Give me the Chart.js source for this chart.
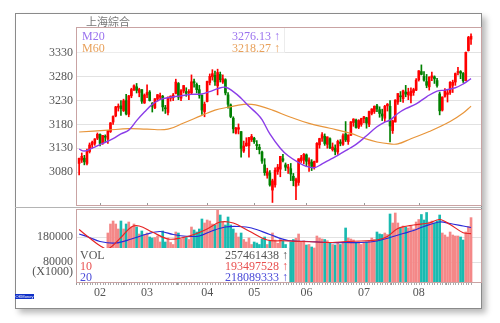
<!DOCTYPE html>
<html>
<head>
<meta charset="utf-8">
<script src="https://cdn.jsdelivr.net/npm/chart.js@4.4.1/dist/chart.umd.min.js"></script>
<style>
  html, body { margin:0; padding:0; background:#fff; }
  #wrap { position:relative; width:500px; height:323px; overflow:hidden; font-family:"Liberation Serif","DejaVu Serif",serif; }
  #frame { position:absolute; left:15px; top:13px; width:467px; height:296px; box-sizing:border-box; border:1px solid #8a8a8a; background:#fff; box-shadow:4px 4px 6px rgba(0,0,0,0.28); }
  #sep { position:absolute; left:15px; top:207px; width:467px; height:1px; background:#b4b4b4; }
  canvas { position:absolute; left:0; top:0; }
  .t { position:absolute; white-space:nowrap; font-size:12px; line-height:14px; }
  .box { position:absolute; background:#fff; }
  .r { text-align:right; }
</style>
</head>
<body>
<div id="wrap">
  <div id="frame"></div>
  <div id="sep"></div>
  <canvas id="price" width="500" height="323"></canvas>
  <canvas id="vol" width="500" height="323"></canvas>
  <div class="t" id="title" style="left:86px;top:14px;font-family:'Noto Sans CJK TC',sans-serif;font-size:11px;color:#777;">上海綜合</div>
  <div class="box" style="left:77px;top:28px;width:207px;height:24px;border-right:1px solid #ececec;border-bottom:1px solid #ececec;"></div>
  <div class="t" id="m20n" style="left:82px;top:29px;color:#9a72ee;"></div>
  <div class="t" id="m60n" style="left:82px;top:41px;color:#e8a05a;"></div>
  <div class="t r" id="m20v" style="right:220px;top:29px;color:#9a72ee;"></div>
  <div class="t r" id="m60v" style="right:220px;top:41px;color:#e8a05a;"></div>
  <div class="box" style="left:77px;top:248px;width:212px;height:34px;"></div>
  <div class="t" id="vn0" style="left:80px;top:248px;color:#555;"></div>
  <div class="t" id="vn1" style="left:80px;top:259px;color:#e85050;"></div>
  <div class="t" id="vn2" style="left:80px;top:270px;color:#4a4ad8;"></div>
  <div class="t r" id="vv0" style="right:212px;top:248px;color:#555;"></div>
  <div class="t r" id="vv1" style="right:212px;top:259px;color:#e85050;"></div>
  <div class="t r" id="vv2" style="right:212px;top:270px;color:#4a4ad8;"></div>
  <div class="t r" style="right:427px;top:264px;color:#555;">(X1000)</div>
  <div style="position:absolute;left:15px;top:294px;width:19px;height:5px;background:#1030c8;color:#fff;font:4px/5px sans-serif;text-align:center;overflow:hidden;">OKMoney</div>
</div>
<script>
const monthIdx    = [8, 26, 49, 67, 87, 109, 130];
const monthLabels = ['02','03','04','05','06','07','08'];
const priceTicks  = [3080, 3130, 3180, 3230, 3280, 3330];
const volTicks    = [80000, 180000];

const opens = [3098,3105,3109,3098,3123,3137,3140,3151,3159,3141,
3155,3149,3165,3185,3198,3216,3219,3209,3230,3201,
3240,3253,3259,3247,3253,3225,3242,3248,3224,3215,
3233,3237,3239,3214,3205,3235,3236,3245,3266,3235,
3250,3249,3247,3246,3270,3264,3253,3241,3207,3228,
3268,3280,3283,3261,3285,3269,3274,3242,3221,3193,
3162,3170,3165,3124,3135,3135,3148,3151,3138,3132,
3122,3095,3073,3078,3042,3053,3081,3086,3108,3095,
3088,3087,3071,3050,3058,3104,3105,3116,3097,3101,
3091,3101,3137,3151,3155,3138,3150,3127,3130,3122,
3143,3138,3160,3144,3157,3184,3189,3174,3180,3192,
3194,3180,3203,3207,3219,3211,3202,3193,3219,3218,
3167,3185,3227,3240,3234,3248,3242,3240,3247,3252,
3274,3291,3281,3270,3259,3279,3280,3272,3244,3210,
3239,3243,3247,3262,3269,3289,3291,3287,3272,3335,
3359];
const highs = [3109,3120,3115,3128,3141,3145,3150,3162,3160,3157,
3158,3167,3184,3198,3218,3223,3230,3233,3243,3241,
3256,3263,3266,3256,3253,3244,3263,3251,3226,3234,
3243,3246,3241,3220,3238,3240,3245,3275,3268,3253,
3262,3257,3253,3284,3275,3267,3262,3242,3227,3271,
3286,3295,3292,3296,3290,3284,3276,3247,3223,3196,
3174,3181,3165,3145,3152,3153,3159,3153,3146,3138,
3124,3108,3088,3083,3065,3089,3096,3113,3117,3099,
3096,3098,3077,3067,3108,3115,3119,3118,3110,3106,
3103,3142,3151,3163,3160,3154,3152,3141,3137,3147,
3148,3160,3186,3158,3186,3192,3191,3190,3193,3197,
3195,3208,3213,3219,3222,3217,3212,3220,3224,3230,
3189,3232,3245,3249,3252,3262,3256,3257,3256,3276,
3293,3305,3291,3285,3280,3290,3282,3277,3248,3238,
3255,3253,3270,3273,3288,3300,3293,3289,3332,3365,
3370];
const lows = [3074,3100,3095,3095,3120,3130,3136,3148,3135,3138,
3143,3140,3163,3180,3196,3208,3199,3207,3200,3196,
3236,3251,3246,3238,3224,3224,3236,3229,3206,3213,
3229,3232,3208,3203,3200,3229,3230,3244,3232,3230,
3246,3239,3232,3243,3258,3246,3235,3201,3196,3227,
3263,3273,3262,3242,3269,3266,3242,3214,3194,3162,
3160,3160,3111,3121,3134,3111,3144,3140,3127,3118,
3098,3073,3067,3050,3016,3048,3075,3070,3101,3083,
3077,3062,3051,3022,3052,3100,3097,3092,3081,3083,
3086,3100,3130,3144,3136,3130,3129,3124,3116,3117,
3135,3136,3144,3138,3157,3176,3172,3171,3176,3183,
3172,3175,3200,3203,3207,3195,3188,3186,3208,3143,
3161,3185,3222,3228,3226,3238,3232,3225,3241,3251,
3271,3284,3271,3257,3252,3272,3266,3258,3200,3208,
3237,3227,3243,3247,3262,3284,3276,3268,3272,3334,
3348];
const closes = [3108.8,3113.0,3101.3,3123.1,3136.8,3142.6,3149.6,3159.2,3140.2,3157.0,
3153.1,3167.0,3183.2,3196.7,3216.8,3217.9,3213.0,3229.6,3202.1,3240.0,
3253.3,3261.2,3251.4,3253.4,3228.7,3241.7,3246.9,3230.0,3218.3,3233.9,
3242.4,3240.7,3216.8,3212.8,3237.0,3239.3,3241.8,3268.9,3237.5,3250.8,
3261.6,3245.2,3248.6,3269.5,3267.0,3253.0,3241.3,3210.2,3222.5,3270.3,
3281.0,3286.6,3269.4,3289.0,3273.8,3276.0,3246.1,3222.2,3196.7,3170.7,
3172.1,3173.2,3129.5,3134.6,3140.9,3152.2,3154.7,3143.7,3135.4,3127.4,
3103.0,3078.6,3080.5,3052.8,3061.5,3083.5,3090.2,3113.0,3104.4,3090.1,
3090.6,3075.7,3062.0,3064.1,3107.8,3110.1,3117.2,3102.6,3105.5,3091.7,
3102.1,3140.3,3150.3,3158.4,3139.9,3153.7,3130.7,3132.5,3123.2,3144.4,
3140.0,3156.2,3147.5,3157.9,3185.4,3191.2,3173.2,3188.1,3192.4,3195.9,
3182.8,3207.1,3212.4,3218.0,3212.6,3203.0,3197.5,3218.2,3222.4,3176.5,
3187.6,3231.0,3244.9,3238.0,3250.6,3243.7,3247.7,3249.8,3253.2,3273.0,
3292.6,3285.1,3272.9,3262.1,3279.5,3281.9,3275.6,3261.8,3208.5,3237.4,
3251.3,3246.5,3268.4,3268.7,3286.9,3290.2,3287.7,3271.5,3331.5,3362.7,
3365.2];
const volumes = [132000,126000,118000,128000,130000,122000,126000,134000,120000,112000,
118000,196000,232000,244000,232000,212000,244000,212000,232000,240000,
220000,232000,220000,192000,204000,190000,196000,180000,176000,178000,
184000,160000,204000,160000,176000,158000,150000,200000,196000,172000,
180000,178000,170000,220000,208000,200000,212000,252000,236000,248000,
244000,232000,228000,288000,268000,240000,228000,260000,228000,212000,
196000,180000,196000,170000,160000,176000,150000,160000,156000,150000,
172000,180000,150000,165000,196000,168000,155000,170000,165000,150000,
135000,160000,170000,175000,192000,160000,165000,148000,150000,140000,
136000,184000,176000,172000,170000,165000,156000,150000,148000,155000,
150000,160000,216000,176000,172000,168000,156000,160000,150000,158000,
160000,165000,176000,170000,200000,192000,190000,196000,190000,272000,
236000,276000,236000,216000,224000,220000,216000,224000,212000,240000,
250000,270000,248000,278000,240000,244000,236000,244000,268000,196000,
188000,180000,200000,188000,184000,184000,180000,168000,200000,222000,
257461];

// moving-average lines at these day positions
const m20X = [0,2,5,9,13,16,19,22,25,28,31,35,39,43,47,50,53,56,59,62,65,68,70,73,77,80,84,87,90,93,96,99,103,106,110,114,117,119,122,125,129,133,137,140,144,147,150];
const m20Y = [3128,3124,3130,3140,3150,3160,3168,3188,3206,3222,3232,3237,3240,3243,3244,3249,3255,3258,3249,3235,3218,3203,3190,3160,3130,3114,3100,3092,3089,3097,3106,3115,3128,3138,3156,3175,3185,3189,3203,3213,3223,3238,3250,3252,3257,3265,3276.13];
const m60X = [0,11,19,26,34,40,47,52,57,63,66,69,74,81,88,96,104,109,114,119,122,127,134,142,147,150];
const m60Y = [3164,3168,3171,3170,3170,3183,3199,3210,3216,3222,3222,3219,3210,3195,3182,3172,3161,3151,3143,3139,3139,3150,3165,3186,3204,3218.27];
const v10X = [0,4,8,11,16,20,23,28,34,39,44,49,54,59,65,72,78,85,91,97,102,108,114,118,122,128,134,138,142,147,150];
const v10Y = [210000,176000,145000,132000,178000,220000,224000,200000,172000,176000,190000,212000,240000,236000,204000,168000,165000,162000,160000,158000,162000,164000,168000,182000,214000,228000,236000,250000,230000,197000,193497];
const v20X = [0,4,8,14,20,26,31,36,41,46,51,56,61,66,73,80,88,95,102,108,114,119,124,128,132,138,142,147,150];
const v20Y = [192000,178000,162000,156000,172000,192000,202000,190000,183000,184000,205000,220000,222000,216000,190000,166000,162000,158000,158000,158000,164000,178000,194000,206000,222000,240000,234000,224000,218089];

const maNames   = ['M20', 'M60'];
const volNames  = ['VOL', '10', '20'];
const volLegend = ['257461438', '193497528', '218089333'];

// ---------------------------------------------------------------
const RED = '#ff0000', GREEN = '#008000', VRED = '#f48888', VGREEN = '#19bab0';
const SERIF = "'Liberation Serif','DejaVu Serif',serif";
const X_MIN = -1.2, X_MAX = 154.2;
const idx = closes.map((_, i) => i);
const up = closes.map((c, i) => c >= opens[i]);
const pts = (xs, ys) => xs.map((x, k) => ({ x, y: ys[k] }));

const panelFrame = {
  id: 'panelFrame',
  afterDraw(chart, args, o) {
    const { ctx, chartArea: a } = chart;
    const xs = chart.scales.x;
    ctx.save();
    ctx.lineWidth = 1;
    ctx.strokeStyle = o.tickColor;
    ctx.beginPath();
    (o.ticks || []).forEach(v => {
      const px = Math.round(xs.getPixelForValue(v)) + 0.5;
      ctx.moveTo(px, a.bottom);
      ctx.lineTo(px, a.bottom + o.tickLen);
    });
    ctx.stroke();
    ctx.strokeStyle = o.color;
    ctx.strokeRect(a.left + 0.5, a.top + 0.5, a.right - a.left - 1, a.bottom - a.top - 1);
    ctx.restore();
  }
};

const yAxis = (min, max, ticks) => ({
  min, max,
  afterFit(s) { s.width = 76; },
  afterBuildTicks(s) { s.ticks = ticks.map(v => ({ value: v })); },
  ticks: { font: { family: SERIF, size: 12 }, color: '#555', padding: 3, callback: v => String(v) },
  grid: { color: '#e2e2e2', drawTicks: false },
  border: { display: false }
});

new Chart(document.getElementById('price'), {
  type: 'bar',
  data: { datasets: [
    { type: 'line', data: pts(m20X, m20Y), borderColor: '#8b3ee8', borderWidth: 1.4, pointRadius: 0, tension: 0.4, order: 0 },
    { type: 'line', data: pts(m60X, m60Y), borderColor: '#e8953a', borderWidth: 1.2, pointRadius: 0, tension: 0.4, order: 0 },
    { type: 'bar', data: idx.map(i => ({ x: i, y: [lows[i], highs[i]] })), backgroundColor: up.map(u => u ? RED : GREEN), barThickness: 1, grouped: false, order: 2 },
    { type: 'bar', data: idx.map(i => ({ x: i, y: [opens[i], closes[i]] })), backgroundColor: up.map(u => u ? RED : GREEN), barThickness: 2, minBarLength: 1, grouped: false, order: 1 }
  ] },
  options: {
    responsive: false, animation: false, devicePixelRatio: 1,
    layout: { padding: { left: 0, top: 27, right: 18, bottom: 117 } },
    plugins: { legend: { display: false }, tooltip: { enabled: false },
      panelFrame: { color: '#c9a3a3', tickColor: '#999', tickLen: -3, ticks: monthIdx } },
    scales: {
      x: { type: 'linear', min: X_MIN, max: X_MAX, display: false, offset: false },
      y: yAxis(3008.6, 3384.6, priceTicks)
    }
  },
  plugins: [panelFrame]
});

new Chart(document.getElementById('vol'), {
  type: 'bar',
  data: { datasets: [
    { type: 'line', data: pts(v10X, v10Y), borderColor: '#e62424', borderWidth: 1.2, pointRadius: 0, tension: 0.35, order: 0 },
    { type: 'line', data: pts(v20X, v20Y), borderColor: '#2a2ad8', borderWidth: 1.2, pointRadius: 0, tension: 0.35, order: 0 },
    { type: 'bar', data: idx.map(i => ({ x: i, y: volumes[i] })), backgroundColor: up.map(u => u ? VRED : VGREEN), barThickness: 2, grouped: false, order: 1 }
  ] },
  options: {
    responsive: false, animation: false, devicePixelRatio: 1,
    layout: { padding: { left: 0, top: 209, right: 18, bottom: 20 } },
    plugins: { legend: { display: false }, tooltip: { enabled: false },
      panelFrame: { color: '#c9a3a3', tickColor: '#aaa', tickLen: 2, ticks: idx } },
    scales: {
      x: { type: 'linear', min: X_MIN, max: X_MAX, offset: false,
        afterFit(s) { s.height = 20; },
        afterBuildTicks(s) { s.ticks = monthIdx.map(v => ({ value: v })); },
        ticks: { autoSkip: false, maxRotation: 0, minRotation: 0, padding: 1, font: { family: SERIF, size: 12 }, color: '#555',
          callback: v => { const k = monthIdx.indexOf(v); return k >= 0 ? monthLabels[k] : ''; } },
        grid: { drawOnChartArea: false, tickLength: 2, color: '#999' },
        border: { display: false } },
      y: yAxis(-4000, 292000, volTicks)
    }
  },
  plugins: [panelFrame]
});

// legend texts
document.getElementById('m20n').textContent = maNames[0];
document.getElementById('m60n').textContent = maNames[1];
document.getElementById('m20v').textContent = m20Y[m20Y.length - 1].toFixed(2) + ' ↑';
document.getElementById('m60v').textContent = m60Y[m60Y.length - 1].toFixed(2) + ' ↑';
volNames.forEach((n, k) => {
  document.getElementById('vn' + k).textContent = n;
  document.getElementById('vv' + k).textContent = volLegend[k] + ' ↑';
});
</script>
</body>
</html>
